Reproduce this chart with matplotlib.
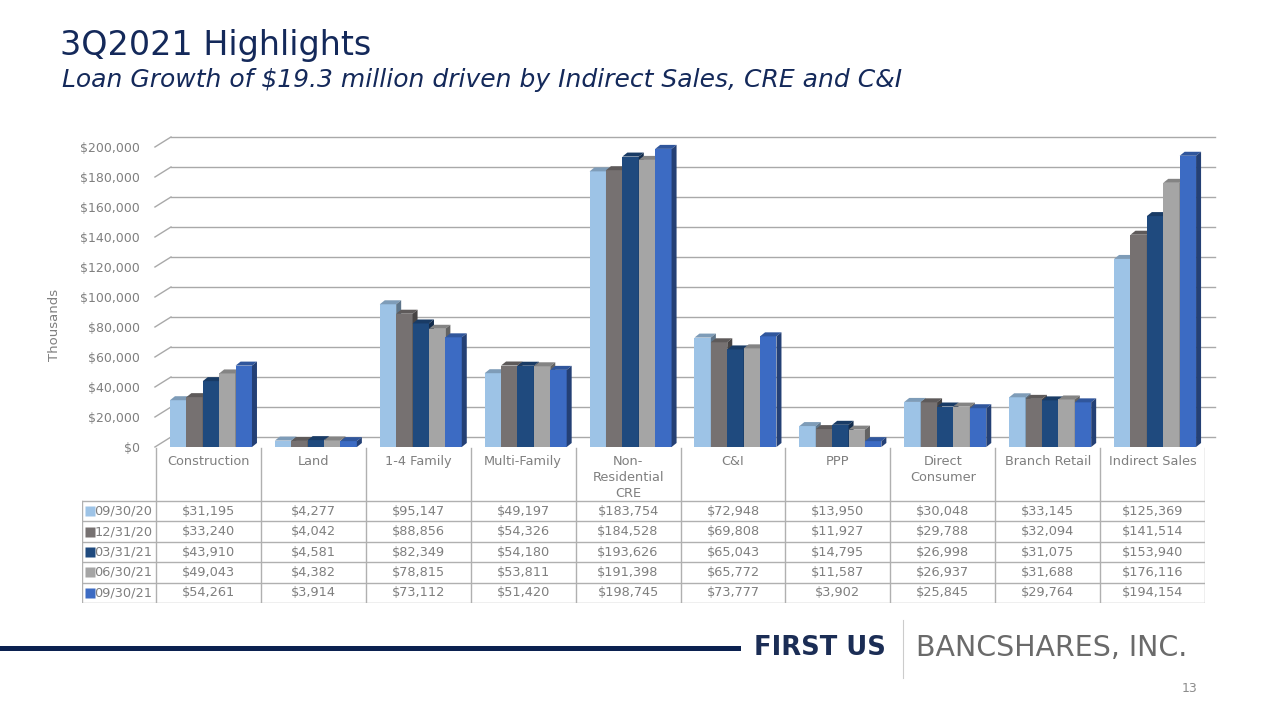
import numpy as np
import matplotlib.pyplot as plt
from matplotlib.patches import Polygon
from matplotlib.lines import Line2D
from matplotlib.colors import to_rgb

categories = ["Construction", "Land", "1-4 Family", "Multi-Family", "Non-\nResidential\nCRE",
              "C&I", "PPP", "Direct\nConsumer", "Branch Retail", "Indirect Sales"]
periods = ["09/30/20", "12/31/20", "03/31/21", "06/30/21", "09/30/21"]
q3_20 = [31195, 4277, 95147, 49197, 183754, 72948, 13950, 30048, 33145, 125369]
q4_20 = [33240, 4042, 88856, 54326, 184528, 69808, 11927, 29788, 32094, 141514]
q1_21 = [43910, 4581, 82349, 54180, 193626, 65043, 14795, 26998, 31075, 153940]
q2_21 = [49043, 4382, 78815, 53811, 191398, 65772, 11587, 26937, 31688, 176116]
q3_21 = [54261, 3914, 73112, 51420, 198745, 73777, 3902, 25845, 29764, 194154]
series = [q3_20, q4_20, q1_21, q2_21, q3_21]
colors = ["#9dc3e6", "#767171", "#1f4a7e", "#a5a5a5", "#3c6bc3"]
yticks = list(range(0, 200001, 20000))

W, H = 1280, 720
gray_txt = "#7f7f7f"
grid_c = "#a9a9a9"
navy = "#14295a"

fig = plt.figure(figsize=(12.8, 7.2), dpi=100)

# titles
fig.text(60 / W, 1 - 46 / H, "3Q2021 Highlights", fontsize=24, color=navy, va="center", ha="left")
fig.text(62 / W, 1 - 80 / H, "Loan Growth of $19.3 million driven by Indirect Sales, CRE and C&I",
         fontsize=18, style="italic", color=navy, va="center", ha="left")

# chart axes (front plane)
left_px, right_px, zero_px, top_px = 156, 1205, 447, 147
ax = fig.add_axes([left_px / W, 1 - zero_px / H, (right_px - left_px) / W, (zero_px - top_px) / H])
ax.set_xlim(-0.5, 9.5)
ax.set_ylim(0, 200000)
for s in ax.spines.values():
    s.set_visible(False)
ax.set_xticks([])
ax.set_yticks(yticks)
ax.set_yticklabels([f"${t:,}" for t in yticks])
ax.tick_params(axis="y", length=0, pad=11.5, labelcolor=gray_txt, labelsize=9)
ax.patch.set_alpha(0)

px_x = (right_px - left_px) / 10.0
px_y = (zero_px - top_px) / 200000.0

# back wall gridlines with depth offset
gdx, gdy = 15 / px_x, 10 / px_y
for t in yticks:
    ax.plot([-0.5 + gdx, 9.5 + 10 / px_x], [t + gdy, t + gdy], color=grid_c, lw=1.0, clip_on=False, zorder=1)
    ax.plot([-0.51, -0.5 + gdx], [t, t + gdy], color=grid_c, lw=1.0, clip_on=False, zorder=1)

# 3D-ish bars
bw = 16.4 / px_x
shift = 0.024
ddx, ddy = 5 / px_x, 4 / px_y


def shade(c, f):
    r, g, b = to_rgb(c)
    return (r * f, g * f, b * f)


x = np.arange(len(categories))
for j, vals in enumerate(series):
    xs = x + (j - 2) * bw + shift
    bars = ax.bar(xs, vals, width=bw, color=colors[j], linewidth=0, zorder=5)
    for i, (b, v) in enumerate(zip(bars, vals)):
        z = 5 + i * 20 + j * 3
        b.set_zorder(z)
        xl, xr = b.get_x(), b.get_x() + bw
        top = Polygon([(xl, v), (xr, v), (xr + ddx, v + ddy), (xl + ddx, v + ddy)],
                      closed=True, facecolor=shade(colors[j], 0.8), lw=0, zorder=z + 1, clip_on=False)
        side = Polygon([(xr, 0), (xr, v), (xr + ddx, v + ddy), (xr + ddx, ddy)],
                       closed=True, facecolor=shade(colors[j], 0.6), lw=0, zorder=z + 1, clip_on=False)
        ax.add_patch(top)
        ax.add_patch(side)

fig.text(55 / W, 1 - 325 / H, "Thousands", rotation=90, color=gray_txt, fontsize=9.5,
         ha="center", va="center")

# data table
tbl_left = 82
tax = fig.add_axes([tbl_left / W, 1 - 603 / H, (right_px - tbl_left) / W, (603 - 447) / H])
x0 = -0.5 - (left_px - tbl_left) / px_x
tax.set_xlim(x0, 9.5)
tax.set_ylim(603, 447)
tax.axis("off")
line_c = "#b0b0b0"
hdr_bot = 501
row_h = (603 - hdr_bot) / 5.0
bounds = np.arange(-0.5, 10.0, 1.0)
for bx in bounds:
    tax.plot([bx, bx], [448, 603], color=line_c, lw=1)
tax.plot([x0, x0], [hdr_bot, 603], color=line_c, lw=1)
for k in range(6):
    yy = hdr_bot + k * row_h
    tax.plot([x0, 9.5], [yy, yy], color=line_c, lw=1)

for i, cat in enumerate(categories):
    tax.text(i, 455, cat, ha="center", va="top", color=gray_txt, fontsize=9.3, linespacing=1.3)

for j, (p, vals) in enumerate(zip(periods, series)):
    yc = hdr_bot + (j + 0.5) * row_h
    tax.plot([x0 + 0.075], [yc], marker="s", ms=6.5, color=colors[j], mec="none")
    tax.text(x0 + 0.12, yc, p, ha="left", va="center", color=gray_txt, fontsize=9.3)
    for i, v in enumerate(vals):
        tax.text(i, yc, f"${v:,}", ha="center", va="center", color=gray_txt, fontsize=9.3)

# footer
fig.add_artist(Line2D([0, 738 / W], [1 - 648 / H, 1 - 648 / H], lw=3.6, color="#0b2150"))
fig.text(754 / W, 1 - 648 / H, "FIRST US", fontsize=18.5, weight="bold", color="#1b2d55",
         ha="left", va="center")
fig.add_artist(Line2D([903 / W, 903 / W], [1 - 620 / H, 1 - 678 / H], lw=0.8, color="#cccccc"))
fig.text(916 / W, 1 - 648 / H, "BANCSHARES, INC.", fontsize=20.5, color="#6a6a6a",
         ha="left", va="center")
fig.text(1190 / W, 1 - 688 / H, "13", fontsize=9, color="#8c8c8c", ha="center", va="center")

fig.savefig("out.png", dpi=100)
